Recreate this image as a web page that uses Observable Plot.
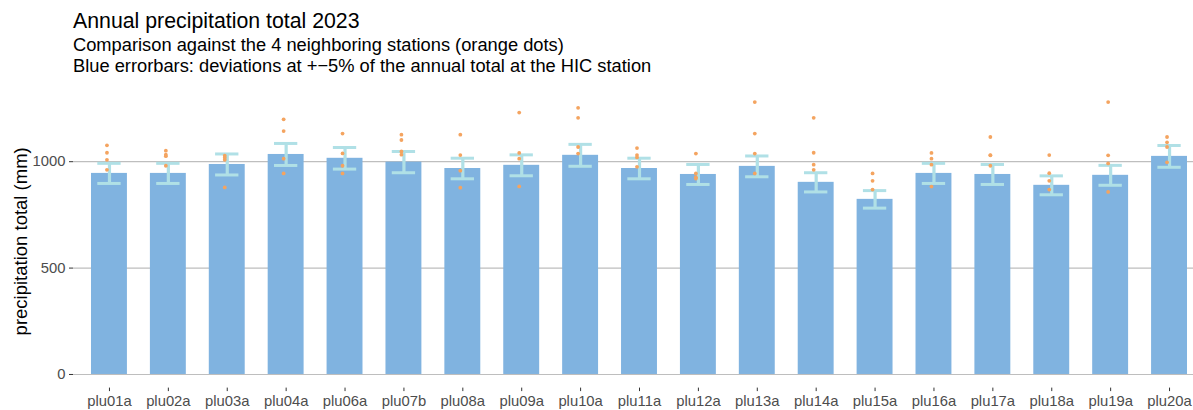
<!DOCTYPE html>
<html><head><meta charset="utf-8">
<script src="https://cdn.jsdelivr.net/npm/d3@7"></script>
<script src="https://cdn.jsdelivr.net/npm/@observablehq/plot@0.6"></script>
<style>
body{margin:0;background:#fff;font-family:"Liberation Sans",Arial,sans-serif;}
#wrap{position:relative;width:1193px;height:410px;overflow:hidden;}
.t{position:absolute;left:73px;white-space:nowrap;color:#000;}
#chart{position:absolute;left:0;top:88px;}
</style></head><body>
<div id="wrap">
<div class="t" style="top:11.3px;font-size:21.3px;line-height:1">Annual precipitation total 2023</div>
<div class="t" style="top:35px;font-size:18.3px;line-height:20.5px">Comparison against the 4 neighboring stations (orange dots)<br>Blue errorbars: deviations at +−5% of the annual total at the HIC station</div>
<div id="chart"></div>
</div>
<script>
const stations = ["plu01a","plu02a","plu03a","plu04a","plu06a","plu07b","plu08a","plu09a","plu10a","plu11a","plu12a","plu13a","plu14a","plu15a","plu16a","plu17a","plu18a","plu19a","plu20a"];
const totals = [945,945,987,1034,1016,998,968,983,1030,968,940,978,903,823,945,940,889,936,1025];
const neighbors = [
  [1077,1042,1009,962],
  [1052,1033,1026,981],
  [1028,1019,1009,879],
  [1199,1144,1014,945],
  [1132,1039,981,945],
  [1127,1102,1048,1033],
  [1127,1031,958,878],
  [1231,1041,1014,884],
  [1253,1206,1069,1038],
  [1064,1031,1020,976],
  [1038,945,927,921],
  [1280,1132,1038,945],
  [1206,1042,986,962],
  [945,910,869],
  [1041,1014,986,883],
  [1116,1031,1030,981],
  [1031,946,910,869],
  [1280,1030,992,858],
  [1116,1091,1069,997]
];
const yTicks = [0,500,1000];
const yLabel = "precipitation total (mm)";

const data = stations.map((s,i)=>({station:s,total:totals[i],lo:totals[i]*0.95,hi:totals[i]*1.05}));
const pts = stations.flatMap((s,i)=>neighbors[i].map(v=>({station:s,value:v})));

const capColor = "#B0E0E6";
const plot = Plot.plot({
  width:1193, height:322, marginLeft:73, marginRight:0, marginTop:0, marginBottom:22.4,
  style:{fontFamily:"'Liberation Sans', Arial, sans-serif", background:"#fff", overflow:"visible"},
  x:{type:"band", domain:stations, range:[91,1187], paddingInner:0.39, paddingOuter:0, round:false, label:null},
  y:{domain:[-64,1344], range:[299.6,0], label:null},
  marks:[
    Plot.ruleY(yTicks,{stroke:"#BEBEBE", strokeWidth:1.2}),
    Plot.barY(data,{x:"station", y1:0, y2:"total", fill:"#80B3E0"}),
    Plot.ruleX(data,{x:"station", y1:"lo", y2:"hi", stroke:capColor, strokeWidth:3.2}),
    Plot.tickY(data,{x:"station", y:"hi", stroke:capColor, strokeWidth:3, inset:6.3}),
    Plot.tickY(data,{x:"station", y:"lo", stroke:capColor, strokeWidth:3, inset:6.3}),
    Plot.dot(pts,{x:"station", y:"value", r:1.9, fill:"#F4A460", stroke:null, dx:-2.5}),
    Plot.axisX({tickSize:3.5, tickPadding:4, fontSize:14.8, fill:"#4D4D4D", stroke:"#333", label:null}),
    Plot.axisY({ticks:yTicks, tickFormat:d=>String(d), tickSize:4, tickPadding:4, fontSize:14.8, fill:"#4D4D4D", stroke:"#333", label:null}),
    Plot.text([yLabel],{frameAnchor:"left", textAnchor:"middle", rotate:-90, dx:-52, dy:3, fontSize:18.5, fill:"#000"})
  ]
});
document.getElementById("chart").appendChild(plot);
</script>
</body></html>
